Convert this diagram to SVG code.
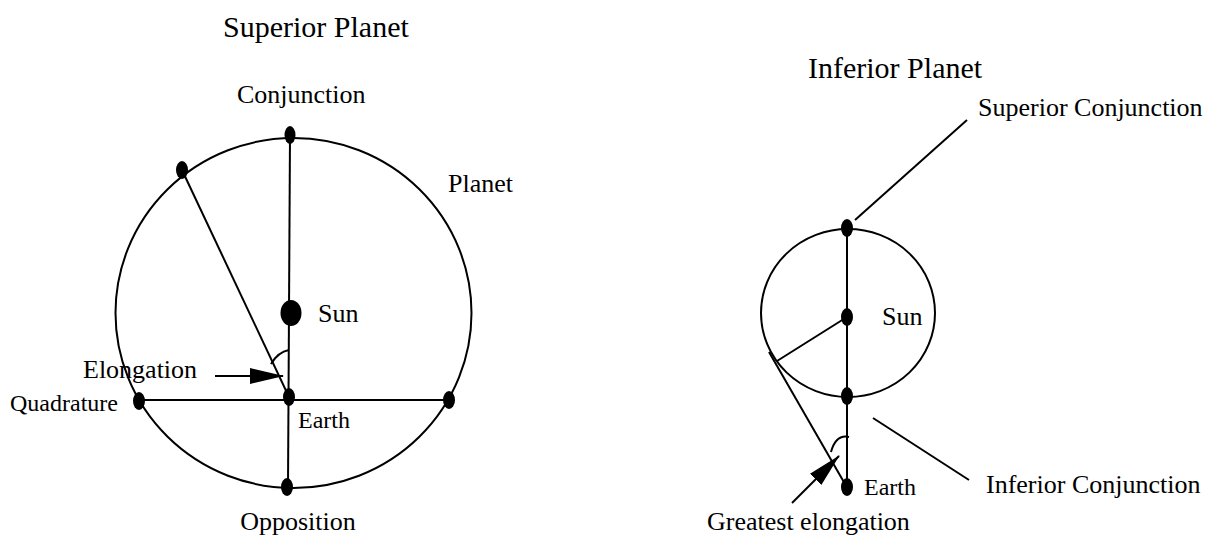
<svg xmlns="http://www.w3.org/2000/svg" width="1220" height="539" viewBox="0 0 1220 539">
<style>
text{font-family:"Liberation Serif","Times New Roman",serif;font-size:26px;fill:#000}
.sm{font-size:24px}
.ttl{font-size:30px}
.ln{stroke:#000;stroke-width:2;fill:none}
.dot{fill:#000}
</style>
<defs>
<marker id="ah" markerUnits="userSpaceOnUse" markerWidth="34" markerHeight="16" refX="33" refY="8" orient="auto">
<path d="M0,0 L34,8 L0,16 z" fill="#000"/>
</marker>
</defs>
<rect width="1220" height="539" fill="#fff"/>
<g id="title-superior"><text class="ttl" x="223" y="37">Superior Planet</text></g>
<g id="title-inferior"><text class="ttl" x="808" y="78">Inferior Planet</text></g>
<g id="connectors">
<ellipse class="ln" cx="293.5" cy="313" rx="178" ry="175"/>
<line class="ln" x1="290" y1="135" x2="288" y2="487"/>
<line class="ln" x1="139" y1="400" x2="449" y2="400"/>
<line class="ln" x1="182" y1="170" x2="289" y2="397"/>
<path class="ln" d="M271,364 Q278,352 289,350"/>
<line class="ln" x1="215" y1="376" x2="283" y2="376" marker-end="url(#ah)"/>
<ellipse class="ln" cx="848" cy="313" rx="87" ry="84"/>
<line class="ln" x1="847" y1="228" x2="847" y2="486"/>
<line class="ln" x1="847" y1="317" x2="777" y2="361"/>
<line class="ln" x1="769" y1="352" x2="845" y2="484"/>
<path class="ln" d="M831,452 Q836,434 849,437"/>
<line class="ln" x1="792" y1="503" x2="839" y2="456" marker-end="url(#ah)"/>
<line class="ln" x1="855" y1="220" x2="967" y2="120"/>
<line class="ln" x1="873" y1="418" x2="969" y2="480"/>
</g>
<g id="conjunction"><ellipse class="dot" cx="290" cy="135" rx="5.5" ry="9"/><text x="237" y="103">Conjunction</text></g>
<g id="planet"><ellipse class="dot" cx="182" cy="170" rx="6" ry="9"/><text x="448" y="192">Planet</text></g>
<g id="sun"><ellipse class="dot" cx="291" cy="313" rx="10.5" ry="13"/><text x="318" y="322">Sun</text></g>
<g id="earth"><ellipse class="dot" cx="289" cy="397" rx="6" ry="9"/><text class="sm" x="298" y="428">Earth</text></g>
<g id="elongation"><text x="83" y="378">Elongation</text></g>
<g id="quadrature-left"><ellipse class="dot" cx="139" cy="401" rx="6" ry="9"/><text class="sm" x="10" y="411">Quadrature</text></g>
<g id="quadrature-right"><ellipse class="dot" cx="449" cy="400" rx="6" ry="9"/></g>
<g id="opposition"><ellipse class="dot" cx="287" cy="487" rx="6" ry="9"/><text x="298" y="530" text-anchor="middle">Opposition</text></g>
<g id="superior-conjunction"><ellipse class="dot" cx="847" cy="228" rx="6" ry="9"/><text x="978" y="116">Superior Conjunction</text></g>
<g id="sun-right"><ellipse class="dot" cx="847" cy="317" rx="6" ry="9"/><text x="882" y="325">Sun</text></g>
<g id="inferior-conjunction"><ellipse class="dot" cx="847" cy="396" rx="6" ry="9"/><text x="986" y="493">Inferior Conjunction</text></g>
<g id="earth-right"><ellipse class="dot" cx="847" cy="487" rx="6" ry="9"/><text class="sm" x="864" y="495">Earth</text></g>
<g id="greatest-elongation"><text x="707" y="530">Greatest elongation</text></g>
</svg>
